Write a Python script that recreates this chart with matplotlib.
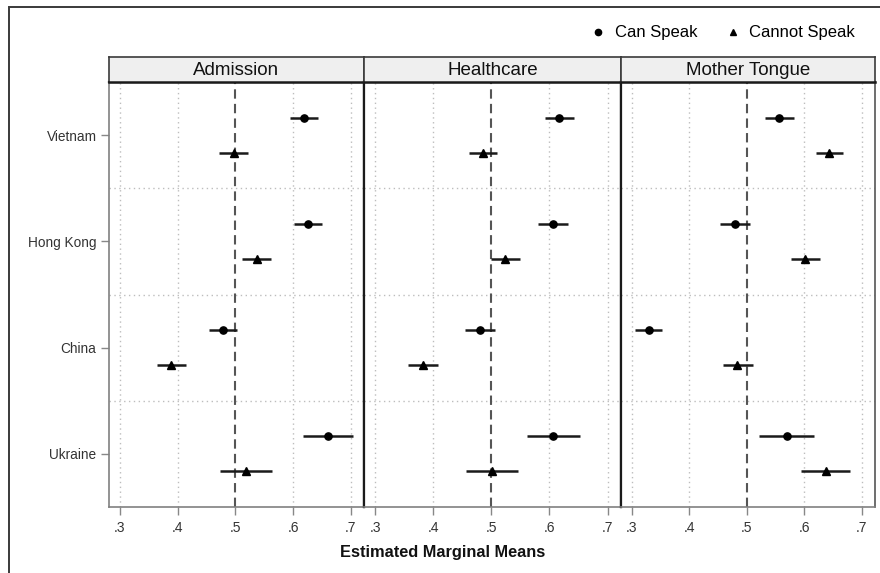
import matplotlib
matplotlib.use('Agg')
import matplotlib.pyplot as plt
from matplotlib.lines import Line2D
from matplotlib.patches import Rectangle

plt.rcParams['font.family'] = ['Liberation Sans', 'DejaVu Sans']

countries = ['Vietnam', 'Hong Kong', 'China', 'Ukraine']
panels = ['Admission', 'Healthcare', 'Mother Tongue']
xticks = [0.3, 0.4, 0.5, 0.6, 0.7]
xticklabels = ['.3', '.4', '.5', '.6', '.7']

# estimates and 95% intervals, one list per outcome
adm_can = [0.619, 0.626, 0.479, 0.660]
adm_can_lo = [0.594, 0.601, 0.454, 0.617]
adm_can_hi = [0.643, 0.650, 0.503, 0.704]
adm_cannot = [0.498, 0.537, 0.389, 0.519]
adm_cannot_lo = [0.471, 0.511, 0.364, 0.474]
adm_cannot_hi = [0.522, 0.562, 0.414, 0.564]

hc_can = [0.617, 0.606, 0.480, 0.606]
hc_can_lo = [0.592, 0.581, 0.455, 0.561]
hc_can_hi = [0.642, 0.632, 0.506, 0.652]
hc_cannot = [0.486, 0.523, 0.382, 0.501]
hc_cannot_lo = [0.461, 0.500, 0.357, 0.457]
hc_cannot_hi = [0.510, 0.550, 0.408, 0.545]

mt_can = [0.556, 0.480, 0.330, 0.569]
mt_can_lo = [0.531, 0.454, 0.306, 0.522]
mt_can_hi = [0.582, 0.506, 0.353, 0.616]
mt_cannot = [0.643, 0.602, 0.483, 0.637]
mt_cannot_lo = [0.620, 0.577, 0.458, 0.594]
mt_cannot_hi = [0.668, 0.627, 0.510, 0.679]

series = [
    (adm_can, adm_can_lo, adm_can_hi, adm_cannot, adm_cannot_lo, adm_cannot_hi),
    (hc_can, hc_can_lo, hc_can_hi, hc_cannot, hc_cannot_lo, hc_cannot_hi),
    (mt_can, mt_can_lo, mt_can_hi, mt_cannot, mt_cannot_lo, mt_cannot_hi),
]

W, H = 880, 573
fig = plt.figure(figsize=(W / 100, H / 100), dpi=100)

# outer frame (left and top edges visible)
fig.patches.append(Rectangle((9 / W, -0.1), 1.2, 1 - 7 / H + 0.1, transform=fig.transFigure,
                             fill=False, edgecolor='#3a3a3a', lw=1.4))

edges = [109, 364, 621, 875]
top, bottom, strip_h = 82, 507, 25
off = 0.165
ypos = list(range(len(countries)))

for i, name in enumerate(panels):
    x0, x1 = edges[i], edges[i + 1]
    ax = fig.add_axes([x0 / W, 1 - bottom / H, (x1 - x0) / W, (bottom - top) / H])
    can, can_lo, can_hi, cannot, cannot_lo, cannot_hi = series[i]

    for gx in [0.3, 0.4, 0.6, 0.7]:
        ax.axvline(gx, color='#bdbdbd', lw=1.0, ls=(0, (1, 2.5)), zorder=0)
    for gy in [0.5, 1.5, 2.5]:
        ax.axhline(gy, color='#bdbdbd', lw=1.0, ls=(0, (1, 2.5)), zorder=0)
    ax.axvline(0.5, color='#555555', lw=1.5, ls=(0, (4.5, 2.5)), zorder=1)

    yc = [y - off for y in ypos]
    yn = [y + off for y in ypos]
    ax.hlines(yc, can_lo, can_hi, color='#1a1a1a', lw=1.8, zorder=2)
    ax.plot(can, yc, 'o', color='black', ms=5.2, zorder=3)
    ax.hlines(yn, cannot_lo, cannot_hi, color='#1a1a1a', lw=1.8, zorder=2)
    ax.plot(cannot, yn, '^', color='black', ms=5.6, zorder=3)

    ax.set_xlim(0.281, 0.723)
    ax.set_ylim(3.5, -0.5)
    ax.set_xticks(xticks)
    ax.set_xticklabels(xticklabels)
    ax.tick_params(axis='x', length=6, width=1, color='#888888', labelcolor='#333333',
                   labelsize=10, pad=4)
    if i == 0:
        ax.set_yticks(ypos)
        ax.set_yticklabels(countries)
        ax.tick_params(axis='y', length=6, width=1, color='#888888', labelcolor='#333333',
                       labelsize=9.8, pad=3)
    else:
        ax.set_yticks([])

    for side in ['top', 'right', 'left', 'bottom']:
        ax.spines[side].set_color('#1a1a1a')
        ax.spines[side].set_linewidth(1.6)
    ax.spines['bottom'].set_color('#808080')
    ax.spines['bottom'].set_linewidth(1.2)
    if i == 0:
        ax.spines['left'].set_color('#808080')
        ax.spines['left'].set_linewidth(1.2)
    if i == 2:
        ax.spines['right'].set_color('#555555')
        ax.spines['right'].set_linewidth(1.2)

    # facet strip
    sax = fig.add_axes([x0 / W, 1 - top / H, (x1 - x0) / W, strip_h / H])
    sax.set_facecolor('#efefef')
    sax.set_xticks([])
    sax.set_yticks([])
    for side in sax.spines.values():
        side.set_color('#3a3a3a')
        side.set_linewidth(1.2)
    sax.spines['bottom'].set_color('#1a1a1a')
    sax.spines['bottom'].set_linewidth(1.8)
    sax.text(0.5, 0.47, name, ha='center', va='center', fontsize=13.5, color='#111111',
             transform=sax.transAxes)

fig.text(443 / W, 1 - 552 / H, 'Estimated Marginal Means',
         ha='center', va='center', fontsize=11.8, fontweight='bold', color='#111111')

handles = [Line2D([], [], ls='none', marker='o', color='black', ms=4.5),
           Line2D([], [], ls='none', marker='^', color='black', ms=5)]
fig.legend(handles, ['Can Speak', 'Cannot Speak'], loc='center right',
           bbox_to_anchor=(870 / W, 1 - 33 / H), ncol=2, frameon=False,
           fontsize=12, handlelength=1.0, handletextpad=0.5, columnspacing=1.6)

fig.savefig('out.png', dpi=100, facecolor='white')
